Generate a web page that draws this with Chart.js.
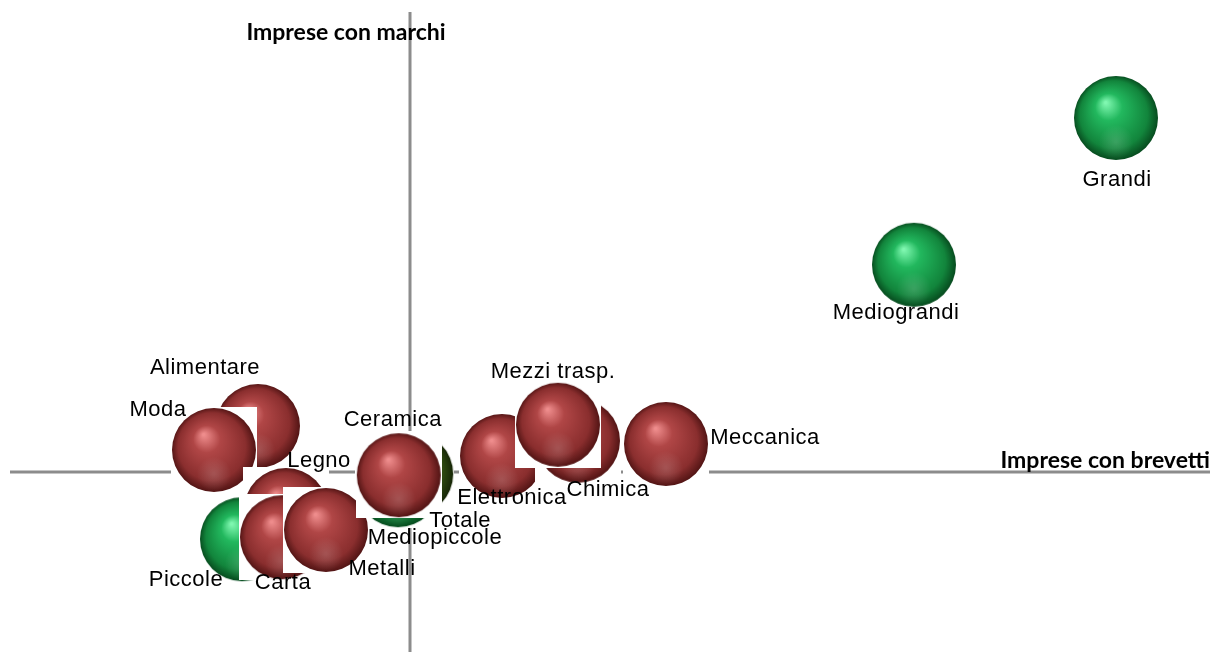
<!DOCTYPE html>
<html>
<head>
<meta charset="utf-8">
<script src="https://cdn.jsdelivr.net/npm/chart.js@4/dist/chart.umd.min.js"></script>
<style>
  body { margin: 0; background: #fff; }
  canvas { display: block; }
</style>
</head>
<body>
<canvas id="chart" width="1211" height="652"></canvas>
<script>
// x = imprese con brevetti, y = imprese con marchi (axes cross at 0)
const sectorNames = ['Alimentare', 'Moda', 'Legno', 'Carta', 'Metalli', 'Ceramica', 'Elettronica', 'Chimica', 'Mezzi trasp.', 'Meccanica']
const sectorX = [-3.8, -4.9, -3.1, -3.2, -2.1, -0.28, 2.3, 4.2, 3.7, 6.4]
const sectorY = [1.15, 0.55, -0.95, -1.63, -1.45, -0.08, 0.4, 0.78, 1.18, 0.7]

const sizeNames = ['Piccole', 'Mediopiccole', 'Mediograndi', 'Grandi']
const sizeX = [-4.2, -0.3, 12.6, 17.65]
const sizeY = [-1.68, -0.33, 5.18, 8.85]

const totalNames = ['Totale']
const totalX = [0.03]
const totalY = [-0.05]

const xTitle = 'Imprese con brevetti'
const yTitle = 'Imprese con marchi'

// label offsets in px from the sphere centre, like the hand-moved labels of the original
const labelOffsets = {
    'Alimentare': [-53, -58], 'Moda': [-56, -40], 'Legno': [33, -49], 'Carta': [1, 46],
    'Metalli': [56, 39], 'Ceramica': [-6, -55], 'Elettronica': [10, 42], 'Chimica': [30, 49],
    'Mezzi trasp.': [-5, -53], 'Meccanica': [99, -6], 'Piccole': [-56, 41],
    'Mediopiccole': [37, 53], 'Mediograndi': [-18, 48], 'Grandi': [1, 62], 'Totale': [49, 47]
}

function toPoints(xs, ys) {
    return xs.map((x, i) => ({ x: x, y: ys[i] }))
}

// sphere picture on a white square, as in the pasted images of the original
function sphere(light, mid, dark, edge) {
    const d = 86
    const c = document.createElement('canvas')
    c.width = d
    c.height = d
    const g = c.getContext('2d')
    g.fillStyle = '#ffffff'
    g.fillRect(0, 0, d, d)
    const grad = g.createRadialGradient(d * 0.38, d * 0.32, 1, d * 0.5, d * 0.5, d * 0.5)
    grad.addColorStop(0, light)
    grad.addColorStop(0.3, mid)
    grad.addColorStop(0.78, dark)
    grad.addColorStop(1, edge)
    g.fillStyle = grad
    g.beginPath()
    g.arc(d / 2, d / 2, d / 2 - 1, 0, Math.PI * 2)
    g.fill()
    // soft reflection near the bottom
    const refl = g.createRadialGradient(d * 0.5, d * 0.78, 1, d * 0.5, d * 0.78, d * 0.2)
    refl.addColorStop(0, 'rgba(255,255,255,0.15)')
    refl.addColorStop(1, 'rgba(255,255,255,0)')
    g.fillStyle = refl
    g.beginPath()
    g.arc(d / 2, d / 2, d / 2 - 1, 0, Math.PI * 2)
    g.fill()
    return c
}

const redBall = sphere('#ee8c8c', '#b04646', '#8a2e2e', '#4d1212')
const greenBall = sphere('#7ff7b0', '#22b85e', '#12853c', '#06461c')
const oliveBall = sphere('#9fc070', '#4f7424', '#2e4a10', '#142205')

const crossAxes = {
    id: 'crossAxes',
    beforeDatasetsDraw(chart) {
        const ctx = chart.ctx
        const a = chart.chartArea
        const x0 = chart.scales.x.getPixelForValue(0)
        const y0 = chart.scales.y.getPixelForValue(0)
        ctx.save()
        ctx.strokeStyle = '#8c8c8c'
        ctx.lineWidth = 3
        ctx.beginPath()
        ctx.moveTo(a.left, y0)
        ctx.lineTo(a.right, y0)
        ctx.moveTo(x0, a.top)
        ctx.lineTo(x0, a.bottom)
        ctx.stroke()
        ctx.restore()
    },
    afterDatasetsDraw(chart) {
        const ctx = chart.ctx
        const a = chart.chartArea
        const x0 = chart.scales.x.getPixelForValue(0)
        const y0 = chart.scales.y.getPixelForValue(0)
        ctx.save()
        ctx.fillStyle = '#000'
        ctx.textBaseline = 'middle'
        ctx.font = 'bold 23px Lato'
        ctx.textAlign = 'center'
        ctx.fillText(yTitle, x0 - 64, a.top + 21)
        ctx.textAlign = 'right'
        ctx.fillText(xTitle, a.right, y0 - 11)

        ctx.font = '22px "Liberation Sans"'
        ctx.letterSpacing = '0.5px'
        ctx.textAlign = 'center'
        chart.data.datasets.forEach((ds, di) => {
            const meta = chart.getDatasetMeta(di)
            meta.data.forEach((pt, i) => {
                const name = ds.names[i]
                const off = labelOffsets[name] || [0, 0]
                ctx.fillText(name, pt.x + off[0], pt.y + off[1])
            })
        })
        ctx.restore()
    }
}

new Chart(document.getElementById('chart'), {
    type: 'scatter',
    data: {
        datasets: [
            { label: 'Settori', names: sectorNames, data: toPoints(sectorX, sectorY), pointStyle: redBall, order: 0 },
            { label: 'Totale', names: totalNames, data: toPoints(totalX, totalY), pointStyle: oliveBall, order: 1 },
            { label: 'Dimensioni', names: sizeNames, data: toPoints(sizeX, sizeY), pointStyle: greenBall, order: 2 }
        ]
    },
    options: {
        responsive: false,
        animation: false,
        events: [],
        layout: { autoPadding: false, padding: { left: 10, right: 1, top: 12, bottom: 0 } },
        scales: {
            x: { type: 'linear', display: false, min: -10, max: 20 },
            y: { type: 'linear', display: false, min: -4.5, max: 11.5 }
        },
        plugins: {
            legend: { display: false },
            tooltip: { enabled: false }
        },
        elements: { point: { radius: 43 } },
        clip: false
    },
    plugins: [crossAxes]
})
</script>
</body>
</html>
